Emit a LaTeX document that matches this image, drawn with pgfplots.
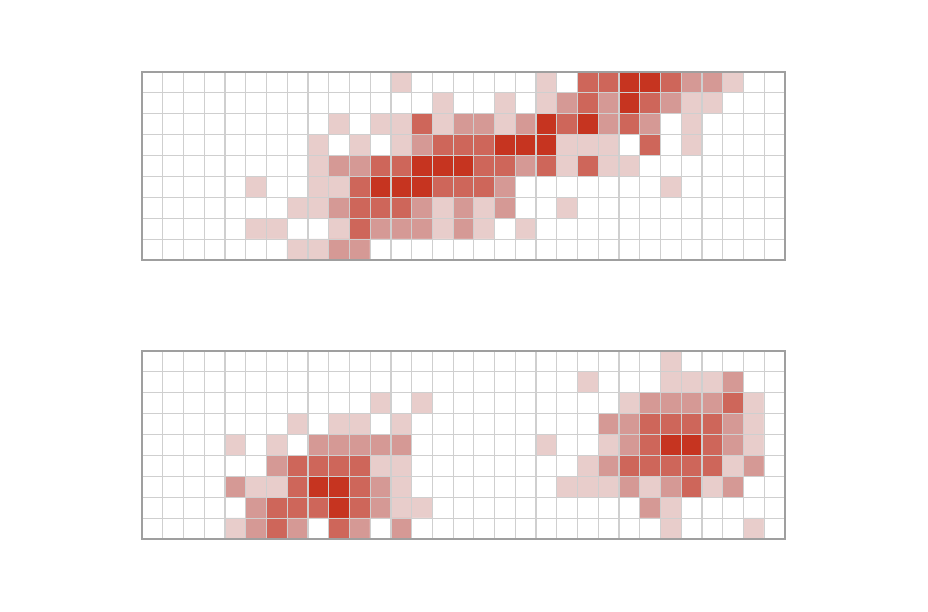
\documentclass[border=0pt]{standalone}
\usepackage{pgfplots}
\pgfplotsset{compat=1.18}
\pgfplotsset{
  heat/.style={
    scale only axis, width=482.25pt, height=141pt,
    xmin=-0.5, xmax=30.5, ymin=-0.5, ymax=8.5, y dir=reverse,
    xtick={-0.5,0.5,...,30.5}, ytick={-0.5,0.5,...,8.5},
    xticklabels={}, yticklabels={}, major tick length=0pt,
    grid=major, grid style={color=gray!38, line width=0.9pt},
    axis line style={gray!75, line width=0.8pt},
    axis on top,
    colormap={redmap}{rgb255(0)=(255,255,255) rgb255(1)=(232,205,203) rgb255(2)=(213,153,149) rgb255(3)=(206,102,90) rgb255(4)=(198,52,32)},
    point meta min=0, point meta max=4,
  }
}
\begin{document}
\begin{tikzpicture}
\path[use as bounding box] (0,0) rectangle (696pt,458.25pt);
\begin{axis}[heat, at={(106.5pt,263.25pt)}, anchor=south west]
\addplot[matrix plot*, mesh/cols=31, point meta=explicit] table[row sep=\\, x expr={mod(\coordindex,31)}, y expr={floor(\coordindex/31)}, meta=v] {
v\\
0\\ 0\\ 0\\ 0\\ 0\\ 0\\ 0\\ 0\\ 0\\ 0\\ 0\\ 0\\ 1\\ 0\\ 0\\ 0\\ 0\\ 0\\ 0\\ 1\\ 0\\ 3\\ 3\\ 4\\ 4\\ 3\\ 2\\ 2\\ 1\\ 0\\ 0\\
0\\ 0\\ 0\\ 0\\ 0\\ 0\\ 0\\ 0\\ 0\\ 0\\ 0\\ 0\\ 0\\ 0\\ 1\\ 0\\ 0\\ 1\\ 0\\ 1\\ 2\\ 3\\ 2\\ 4\\ 3\\ 2\\ 1\\ 1\\ 0\\ 0\\ 0\\
0\\ 0\\ 0\\ 0\\ 0\\ 0\\ 0\\ 0\\ 0\\ 1\\ 0\\ 1\\ 1\\ 3\\ 1\\ 2\\ 2\\ 1\\ 2\\ 4\\ 3\\ 4\\ 2\\ 3\\ 2\\ 0\\ 1\\ 0\\ 0\\ 0\\ 0\\
0\\ 0\\ 0\\ 0\\ 0\\ 0\\ 0\\ 0\\ 1\\ 0\\ 1\\ 0\\ 1\\ 2\\ 3\\ 3\\ 3\\ 4\\ 4\\ 4\\ 1\\ 1\\ 1\\ 0\\ 3\\ 0\\ 1\\ 0\\ 0\\ 0\\ 0\\
0\\ 0\\ 0\\ 0\\ 0\\ 0\\ 0\\ 0\\ 1\\ 2\\ 2\\ 3\\ 3\\ 4\\ 4\\ 4\\ 3\\ 3\\ 2\\ 3\\ 1\\ 3\\ 1\\ 1\\ 0\\ 0\\ 0\\ 0\\ 0\\ 0\\ 0\\
0\\ 0\\ 0\\ 0\\ 0\\ 1\\ 0\\ 0\\ 1\\ 1\\ 3\\ 4\\ 4\\ 4\\ 3\\ 3\\ 3\\ 2\\ 0\\ 0\\ 0\\ 0\\ 0\\ 0\\ 0\\ 1\\ 0\\ 0\\ 0\\ 0\\ 0\\
0\\ 0\\ 0\\ 0\\ 0\\ 0\\ 0\\ 1\\ 1\\ 2\\ 3\\ 3\\ 3\\ 2\\ 1\\ 2\\ 1\\ 2\\ 0\\ 0\\ 1\\ 0\\ 0\\ 0\\ 0\\ 0\\ 0\\ 0\\ 0\\ 0\\ 0\\
0\\ 0\\ 0\\ 0\\ 0\\ 1\\ 1\\ 0\\ 0\\ 1\\ 3\\ 2\\ 2\\ 2\\ 1\\ 2\\ 1\\ 0\\ 1\\ 0\\ 0\\ 0\\ 0\\ 0\\ 0\\ 0\\ 0\\ 0\\ 0\\ 0\\ 0\\
0\\ 0\\ 0\\ 0\\ 0\\ 0\\ 0\\ 1\\ 1\\ 2\\ 2\\ 0\\ 0\\ 0\\ 0\\ 0\\ 0\\ 0\\ 0\\ 0\\ 0\\ 0\\ 0\\ 0\\ 0\\ 0\\ 0\\ 0\\ 0\\ 0\\ 0\\
};
\end{axis}
\begin{axis}[heat, at={(106.5pt,54pt)}, anchor=south west]
\addplot[matrix plot*, mesh/cols=31, point meta=explicit] table[row sep=\\, x expr={mod(\coordindex,31)}, y expr={floor(\coordindex/31)}, meta=v] {
v\\
0\\ 0\\ 0\\ 0\\ 0\\ 0\\ 0\\ 0\\ 0\\ 0\\ 0\\ 0\\ 0\\ 0\\ 0\\ 0\\ 0\\ 0\\ 0\\ 0\\ 0\\ 0\\ 0\\ 0\\ 0\\ 1\\ 0\\ 0\\ 0\\ 0\\ 0\\
0\\ 0\\ 0\\ 0\\ 0\\ 0\\ 0\\ 0\\ 0\\ 0\\ 0\\ 0\\ 0\\ 0\\ 0\\ 0\\ 0\\ 0\\ 0\\ 0\\ 0\\ 1\\ 0\\ 0\\ 0\\ 1\\ 1\\ 1\\ 2\\ 0\\ 0\\
0\\ 0\\ 0\\ 0\\ 0\\ 0\\ 0\\ 0\\ 0\\ 0\\ 0\\ 1\\ 0\\ 1\\ 0\\ 0\\ 0\\ 0\\ 0\\ 0\\ 0\\ 0\\ 0\\ 1\\ 2\\ 2\\ 2\\ 2\\ 3\\ 1\\ 0\\
0\\ 0\\ 0\\ 0\\ 0\\ 0\\ 0\\ 1\\ 0\\ 1\\ 1\\ 0\\ 1\\ 0\\ 0\\ 0\\ 0\\ 0\\ 0\\ 0\\ 0\\ 0\\ 2\\ 2\\ 3\\ 3\\ 3\\ 3\\ 2\\ 1\\ 0\\
0\\ 0\\ 0\\ 0\\ 1\\ 0\\ 1\\ 0\\ 2\\ 2\\ 2\\ 2\\ 2\\ 0\\ 0\\ 0\\ 0\\ 0\\ 0\\ 1\\ 0\\ 0\\ 1\\ 2\\ 3\\ 4\\ 4\\ 3\\ 2\\ 1\\ 0\\
0\\ 0\\ 0\\ 0\\ 0\\ 0\\ 2\\ 3\\ 3\\ 3\\ 3\\ 1\\ 1\\ 0\\ 0\\ 0\\ 0\\ 0\\ 0\\ 0\\ 0\\ 1\\ 2\\ 3\\ 3\\ 3\\ 3\\ 3\\ 1\\ 2\\ 0\\
0\\ 0\\ 0\\ 0\\ 2\\ 1\\ 1\\ 3\\ 4\\ 4\\ 3\\ 2\\ 1\\ 0\\ 0\\ 0\\ 0\\ 0\\ 0\\ 0\\ 1\\ 1\\ 1\\ 2\\ 1\\ 2\\ 3\\ 1\\ 2\\ 0\\ 0\\
0\\ 0\\ 0\\ 0\\ 0\\ 2\\ 3\\ 3\\ 3\\ 4\\ 3\\ 2\\ 1\\ 1\\ 0\\ 0\\ 0\\ 0\\ 0\\ 0\\ 0\\ 0\\ 0\\ 0\\ 2\\ 1\\ 0\\ 0\\ 0\\ 0\\ 0\\
0\\ 0\\ 0\\ 0\\ 1\\ 2\\ 3\\ 2\\ 0\\ 3\\ 2\\ 0\\ 2\\ 0\\ 0\\ 0\\ 0\\ 0\\ 0\\ 0\\ 0\\ 0\\ 0\\ 0\\ 0\\ 1\\ 0\\ 0\\ 0\\ 1\\ 0\\
};
\end{axis}
\end{tikzpicture}
\end{document}
